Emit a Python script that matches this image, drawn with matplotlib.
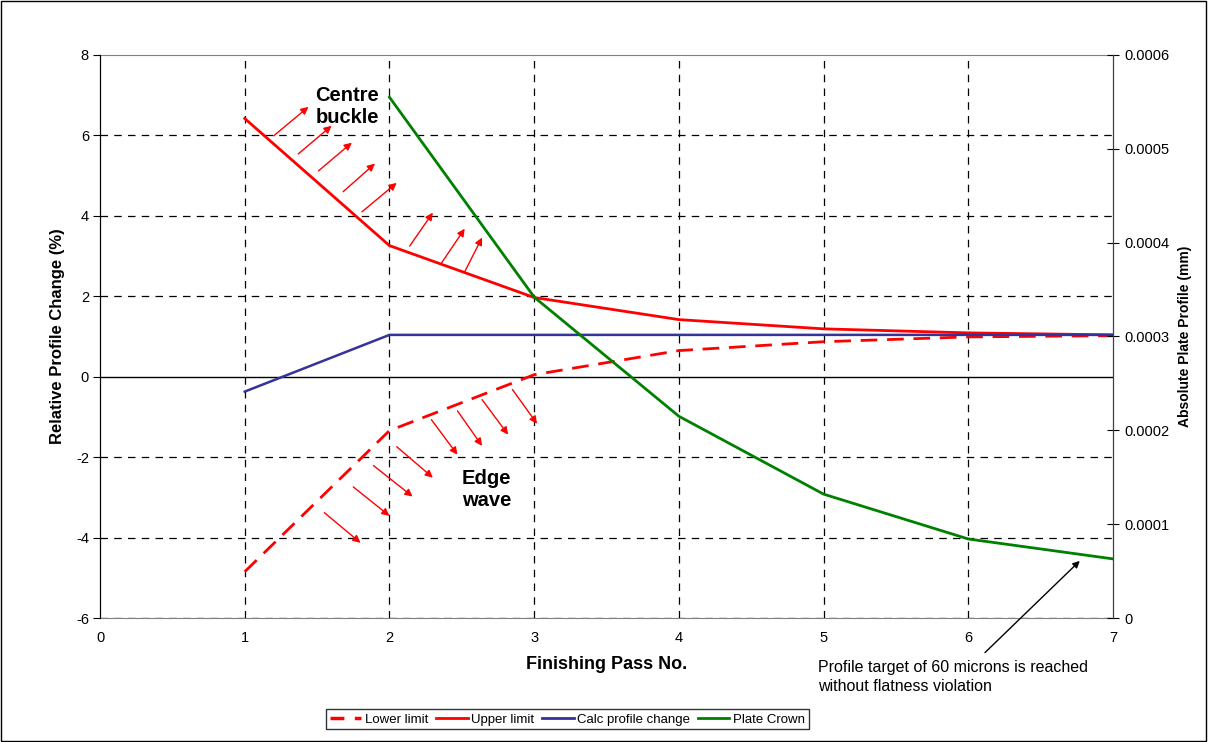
import matplotlib
matplotlib.use("Agg")
import matplotlib.pyplot as plt
import matplotlib.patches as patches
from matplotlib.lines import Line2D

plt.rcParams['font.family'] = ['Liberation Sans', 'DejaVu Sans']
plt.rcParams['axes.unicode_minus'] = False

# data
passes = [1, 2, 3, 4, 5, 6, 7]
lower_limit = [-4.85, -1.34, 0.05, 0.65, 0.87, 0.99, 1.02]
upper_limit = [6.42, 3.26, 1.97, 1.42, 1.19, 1.09, 1.04]
calc_profile = [-0.37, 1.04, 1.04, 1.04, 1.04, 1.04, 1.04]
crown_passes = [2, 3, 4, 5, 6, 7]
plate_crown = [0.000555, 0.000342, 0.000215, 0.000132, 0.0000842, 0.000063]

# arrows (x0, y0, x1, y1) in left-axis data units
buckle_arrows = [
    (1.20, 5.99, 1.44, 6.71), (1.37, 5.54, 1.60, 6.24), (1.51, 5.12, 1.74, 5.82),
    (1.68, 4.60, 1.90, 5.30), (1.81, 4.10, 2.05, 4.82), (2.14, 3.25, 2.30, 4.08),
    (2.36, 2.83, 2.52, 3.68), (2.52, 2.61, 2.64, 3.46),
]
edge_arrows = [
    (1.55, -3.38, 1.80, -4.13), (1.75, -2.74, 2.00, -3.46), (1.89, -2.21, 2.16, -2.98),
    (2.05, -1.74, 2.30, -2.51), (2.29, -1.07, 2.47, -1.94), (2.47, -0.85, 2.64, -1.72),
    (2.64, -0.57, 2.82, -1.44), (2.85, -0.32, 3.02, -1.17),
]

left_ticks = [-6, -4, -2, 0, 2, 4, 6, 8]
right_ticks = [0, 0.0001, 0.0002, 0.0003, 0.0004, 0.0005, 0.0006]
right_labels = ['0', '0.0001', '0.0002', '0.0003', '0.0004', '0.0005', '0.0006']
x_ticks = [0, 1, 2, 3, 4, 5, 6, 7]

red = '#ff0000'
blue = '#333399'
green = '#008000'

fig = plt.figure(figsize=(12.08, 7.42), dpi=100)
fig.patches.append(patches.Rectangle((0.001, 0.002), 0.997, 0.996, transform=fig.transFigure,
                                     fill=False, edgecolor='black', linewidth=1))
ax = fig.add_axes([0.0828, 0.1671, 0.8386, 0.7588])

# grid
for xv in x_ticks[1:-1]:
    ax.plot([xv, xv], [-6, 8], color='black', lw=0.9, linestyle=(0, (6, 5)), zorder=1)
for yv in left_ticks:
    if yv in (0, 8):
        continue
    ax.plot([0, 7], [yv, yv], color='black', lw=0.9, linestyle=(0, (6, 5)), zorder=1)
ax.axhline(0, color='black', lw=1.0, zorder=1)

ax.plot(passes, lower_limit, color=red, lw=2, linestyle=(0, (6, 3.5)), zorder=3)
ax.plot(passes, upper_limit, color=red, lw=2, zorder=3)
ax.plot(passes, calc_profile, color=blue, lw=1.8, zorder=3)

for x0, y0, x1, y1 in buckle_arrows + edge_arrows:
    ax.annotate('', xy=(x1, y1), xytext=(x0, y0),
                arrowprops=dict(arrowstyle='-|>', color=red, lw=1.0,
                                mutation_scale=11, shrinkA=0, shrinkB=0))

ax.text(1.71, 6.72, 'Centre\nbuckle', ha='center', va='center', fontsize=14.5,
        fontweight='bold', linespacing=1.2)
ax.text(2.67, -2.8, 'Edge\nwave', ha='center', va='center', fontsize=14.5,
        fontweight='bold', linespacing=1.2)

ax.set_xlim(0, 7)
ax.set_ylim(-6, 8)
ax.set_xticks(x_ticks)
ax.set_yticks(left_ticks)
ax.tick_params(axis='x', length=0, pad=9, labelsize=10.5)
ax.tick_params(axis='y', direction='out', length=5, labelsize=10.5, pad=3)
ax.set_xlabel('Finishing Pass No.', fontsize=13, fontweight='bold', labelpad=8)
ax.set_ylabel('Relative Profile Change (%)', fontsize=12, fontweight='bold', labelpad=8)
ax.spines['top'].set_color('#808080')
ax.spines['bottom'].set_color('#808080')

ax2 = ax.twinx()
ax2.plot(crown_passes, plate_crown, color=green, lw=2, zorder=3)
ax2.set_ylim(0, 0.0006)
ax2.set_yticks(right_ticks)
ax2.set_yticklabels(right_labels)
ax2.tick_params(axis='y', direction='inout', length=8, labelsize=10.5, pad=4)
ax2.set_ylabel('Absolute Plate Profile (mm)', fontsize=10, fontweight='bold', labelpad=6)
ax2.spines['top'].set_visible(False)
ax2.spines['bottom'].set_visible(False)
ax2.spines['right'].set_color('#404040')

ax.text(4.96, -7.05, 'Profile target of 60 microns is reached\nwithout flatness violation',
        ha='left', va='top', fontsize=11.5, linespacing=1.35, clip_on=False)
ax.annotate('', xy=(6.77, -4.58), xytext=(6.115, -6.86), annotation_clip=False,
            arrowprops=dict(arrowstyle='-|>', color='black', lw=1.0, mutation_scale=10,
                            shrinkA=0, shrinkB=0))

handles = [
    Line2D([], [], color=red, lw=2.5, linestyle=(0, (4, 3))),
    Line2D([], [], color=red, lw=2),
    Line2D([], [], color=blue, lw=2),
    Line2D([], [], color=green, lw=2),
]
labels = ['Lower limit', 'Upper limit', 'Calc profile change', 'Plate Crown']
fig.legend(handles, labels, loc='lower center', bbox_to_anchor=(0.4695, 0.008), ncol=4,
           fontsize=9.5, frameon=True, fancybox=False, edgecolor='black',
           handlelength=2.4, handletextpad=0.25, columnspacing=0.6, borderpad=0.3)

fig.savefig('out.png', dpi=100)
